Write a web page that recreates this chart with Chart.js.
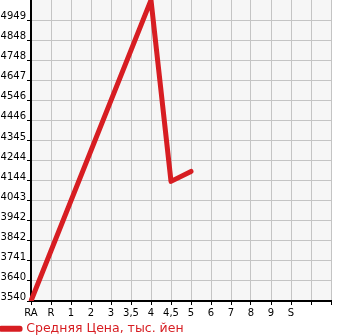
<!DOCTYPE html>
<html lang="ru">
<head>
  <meta charset="UTF-8" />
  <title>Средняя Цена</title>
  <style>
    * { margin: 0; padding: 0; box-sizing: border-box; }
    html, body { width: 345px; height: 335px; background: #fff; overflow: hidden; }
    #wrap { width: 345px; height: 335px; }
  </style>
  <script src="https://cdn.jsdelivr.net/npm/chart.js@4/dist/chart.umd.min.js"></script>
</head>
<body>
  <div id="wrap"><canvas id="c"></canvas></div>
  <script>
    // категории (последние две без подписи)
    const grades = ['RA', 'R', '1', '2', '3', '3,5', '4', '4,5', '5', '6', '7', '8', '9', 'S', '', ''];
    const avgPrice = [3540, null, null, null, null, null, 5049, 4140, 4190, null, null, null, null, null, null, null];
    const yTickLabels = ['3540', '3640', '3741', '3842', '3942', '4043', '4144', '4244', '4345', '4446', '4546', '4647', '4748', '4848', '4949'];
    const yMin = 3540;
    const yStep = 100.64;
    const yMax = yMin + yStep * 15;
    const seriesName = 'Средняя Цена, тыс. йен';
    const red = '#d71d22';

    Chart.defaults.font.family = 'DejaVu Sans';
    Chart.defaults.font.size = 10;
    Chart.defaults.color = '#000';

    // фон области графика
    const plotBg = {
      id: 'plotBg',
      beforeDraw(chart) {
        const a = chart.chartArea, g = chart.ctx;
        g.save();
        g.fillStyle = '#f6f6f6';
        g.fillRect(a.left, a.top, a.right - a.left, a.bottom - a.top);
        g.restore();
      }
    };

    new Chart(document.getElementById('c'), {
      type: 'line',
      data: {
        labels: grades,
        datasets: [{
          label: seriesName,
          data: avgPrice,
          borderColor: red,
          backgroundColor: red,
          borderWidth: 5,
          borderCapStyle: 'round',
          borderJoinStyle: 'round',
          pointRadius: 0,
          spanGaps: true,
          tension: 0
        }]
      },
      options: {
        responsive: true,
        maintainAspectRatio: false,
        animation: false,
        // легенда съедает лишние 10px снизу
        layout: { padding: { top: 0, right: 14, bottom: -10, left: 0 } },
        scales: {
          x: {
            type: 'category',
            offset: false,
            grid: { color: '#c4c4c4', tickColor: '#000', tickLength: 4, lineWidth: 1 },
            border: { color: '#000', width: 2 },
            ticks: { autoSkip: false, maxRotation: 0, padding: 2 },
            afterFit(s) { s.height = 20.5; }
          },
          y: {
            min: yMin,
            max: yMax,
            grid: { color: '#c4c4c4', tickColor: '#000', tickLength: 4, lineWidth: 1 },
            border: { color: '#000', width: 2 },
            afterBuildTicks(s) {
              s.ticks = yTickLabels.map((t, i) => ({ value: yMin + i * yStep }));
            },
            ticks: {
              padding: 1,
              labelOffset: -3.5,
              callback: (v, i) => yTickLabels[i]
            },
            afterFit(s) { s.width = 31; s.paddingTop = 0; s.paddingBottom = 0; }
          }
        },
        plugins: {
          legend: {
            position: 'bottom',
            align: 'start',
            labels: {
              color: red,
              font: { size: 12.5 },
              boxWidth: 19,
              boxHeight: 1,
              padding: 1
            }
          },
          tooltip: { enabled: false }
        }
      },
      plugins: [plotBg]
    });
  </script>
</body>
</html>
